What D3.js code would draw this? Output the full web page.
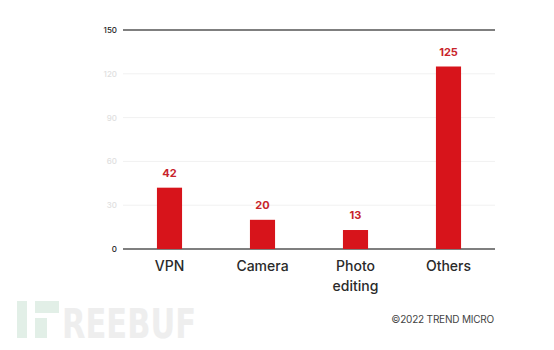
<!DOCTYPE html>
<html><head><meta charset="utf-8">
<script src="https://cdn.jsdelivr.net/npm/d3@7/dist/d3.min.js"></script>
<style>body{margin:0;background:#fff}svg{display:block}</style>
</head><body>
<svg id="c" width="554" height="350"></svg>
<script>
const categories = ["VPN", "Camera", "Photo\nediting", "Others"];
const values = [42, 20, 13, 125];
const tickValues = [0, 30, 60, 90, 120, 150];
const credit = "©2022 TREND MICRO";
const watermark = "REEBUF";

const svg = d3.select("#c");
const font = "Inter, 'Noto Sans', sans-serif";
const x = d3.scaleBand().domain(categories).range([123, 495]).paddingInner(0.73).paddingOuter(0.365);
const y = d3.scaleLinear().domain([0, 150]).range([249, 30]);

// gridlines
svg.append("g").selectAll("line").data(tickValues).join("line")
  .attr("x1", 123).attr("x2", 495)
  .attr("y1", d => y(d)).attr("y2", d => y(d))
  .attr("stroke", d => (d === 0 || d === 150) ? "#555" : "#f1f1f1")
  .attr("stroke-width", d => (d === 0 || d === 150) ? 1.3 : 1);

// y tick labels
const ya = svg.append("g").attr("transform", "translate(117,0)")
  .call(d3.axisLeft(y).tickValues(tickValues).tickSize(0).tickPadding(0));
ya.select(".domain").remove();
ya.selectAll("text")
  .attr("font-family", font).attr("font-size", 8).attr("font-weight", 500)
  .attr("fill", d => (d === 0 || d === 150) ? "#222" : "#e0e0e0");

// bars
svg.append("g").selectAll("rect").data(values).join("rect")
  .attr("x", (d, i) => x(categories[i]))
  .attr("width", x.bandwidth())
  .attr("y", d => y(d))
  .attr("height", d => y(0) - y(d))
  .attr("fill", "#d7141b");

// value labels
svg.append("g").selectAll("text").data(values).join("text")
  .attr("x", (d, i) => x(categories[i]) + x.bandwidth() / 2)
  .attr("y", d => y(d) - 11)
  .attr("text-anchor", "middle")
  .attr("font-family", font).attr("font-size", 11).attr("font-weight", 700)
  .attr("fill", "#c8242b")
  .text(d => d);

// category labels
const xa = svg.append("g");
categories.forEach(c => {
  const t = xa.append("text")
    .attr("x", x(c) + x.bandwidth() / 2)
    .attr("y", 271)
    .attr("text-anchor", "middle")
    .attr("font-family", font).attr("font-size", 14).attr("font-weight", 500)
    .attr("fill", "#2a2a2a");
  c.split("\n").forEach((line, j) => {
    t.append("tspan").attr("x", x(c) + x.bandwidth() / 2).attr("dy", j === 0 ? 0 : 20).text(line);
  });
});

// credit
svg.append("text").attr("x", 494).attr("y", 323).attr("text-anchor", "end")
  .attr("font-family", font).attr("font-size", 10).attr("fill", "#444")
  .attr("letter-spacing", -0.2).text(credit);

// watermark
const wm = svg.append("g");
wm.append("rect").attr("x", 17).attr("y", 301).attr("width", 10).attr("height", 37).attr("fill", "#e2efe7");
wm.append("rect").attr("x", 35).attr("y", 301).attr("width", 24).attr("height", 12).attr("fill", "#e2efe7");
wm.append("rect").attr("x", 35).attr("y", 318).attr("width", 12).attr("height", 20).attr("fill", "#e2efe7");
wm.append("text").attr("x", 62).attr("y", 338)
  .attr("font-family", "'DejaVu Sans', sans-serif").attr("font-size", 41).attr("font-weight", 700)
  .attr("fill", "#eeeeee").attr("textLength", 134).attr("lengthAdjust", "spacingAndGlyphs").text(watermark);
</script>
</body></html>
